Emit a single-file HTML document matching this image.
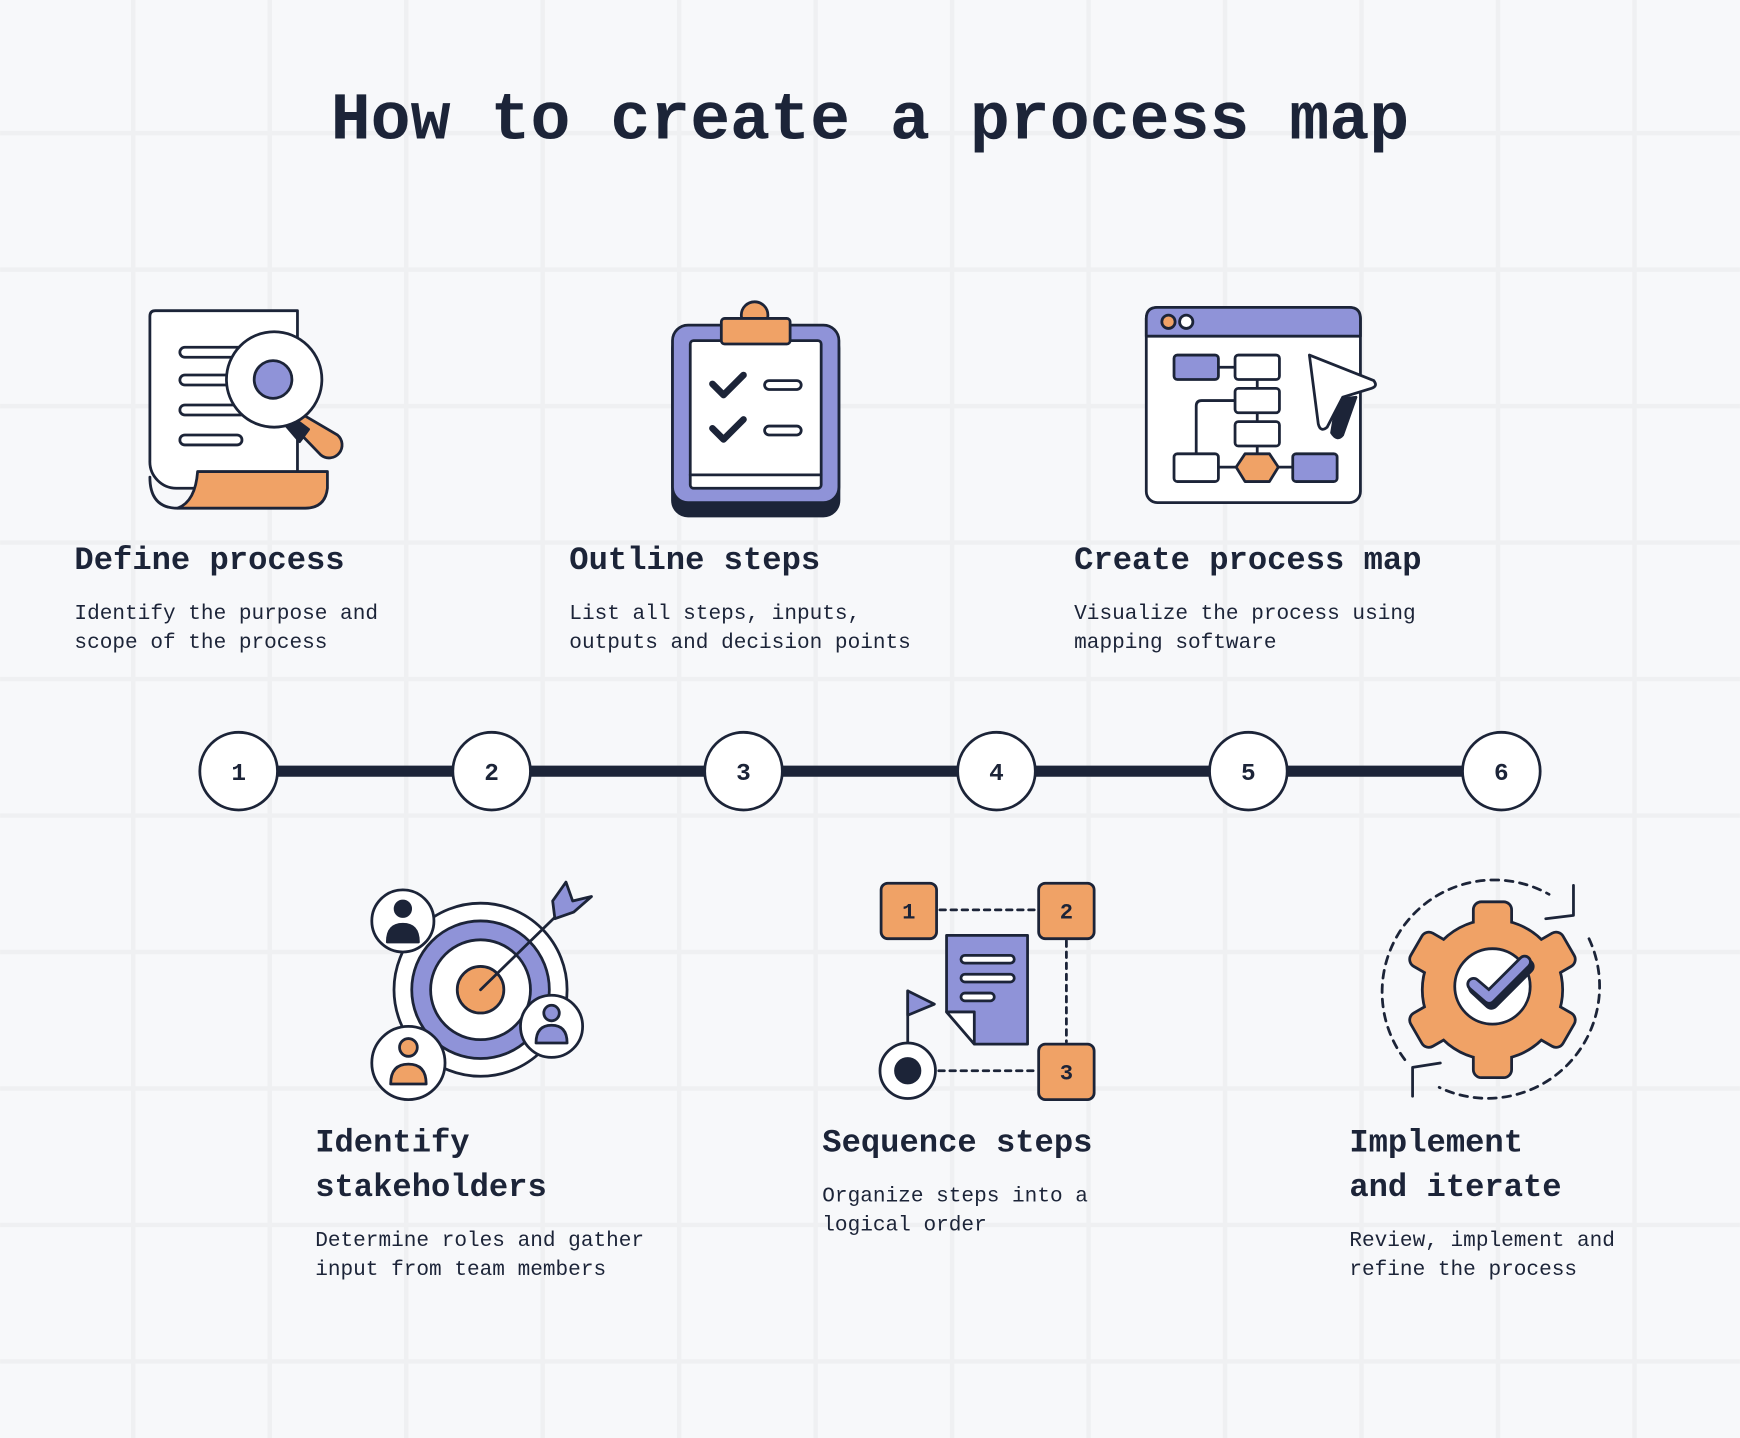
<!DOCTYPE html>
<html><head><meta charset="utf-8"><style>
html,body{margin:0;padding:0;background:#f7f8fa;}
svg{display:block;}
text{font-family:"Liberation Mono","DejaVu Sans Mono",monospace;fill:#1c2438;}
.h{font-size:29px;font-weight:bold;}
.d{font-size:19px;}
.n{font-size:22px;font-weight:bold;}
.s{font-size:20px;font-weight:bold;}
</style></head><body>
<svg width="1740" height="1438" viewBox="0 0 1568 1296" xmlns="http://www.w3.org/2000/svg">
<rect width="1568" height="1296" fill="#f7f8fa"/>
<g stroke="#eff0f2" stroke-width="4">
<line x1="120" y1="0" x2="120" y2="1296"/><line x1="243" y1="0" x2="243" y2="1296"/><line x1="366" y1="0" x2="366" y2="1296"/><line x1="489" y1="0" x2="489" y2="1296"/><line x1="612" y1="0" x2="612" y2="1296"/><line x1="735" y1="0" x2="735" y2="1296"/><line x1="858" y1="0" x2="858" y2="1296"/><line x1="981" y1="0" x2="981" y2="1296"/><line x1="1104" y1="0" x2="1104" y2="1296"/><line x1="1227" y1="0" x2="1227" y2="1296"/><line x1="1350" y1="0" x2="1350" y2="1296"/><line x1="1473" y1="0" x2="1473" y2="1296"/>
<line x1="0" y1="120" x2="1568" y2="120"/><line x1="0" y1="243" x2="1568" y2="243"/><line x1="0" y1="366" x2="1568" y2="366"/><line x1="0" y1="489" x2="1568" y2="489"/><line x1="0" y1="612" x2="1568" y2="612"/><line x1="0" y1="735" x2="1568" y2="735"/><line x1="0" y1="858" x2="1568" y2="858"/><line x1="0" y1="981" x2="1568" y2="981"/><line x1="0" y1="1104" x2="1568" y2="1104"/><line x1="0" y1="1227" x2="1568" y2="1227"/>
</g>
<text x="298" y="125" style="font-size:60px;font-weight:bold" textLength="972" lengthAdjust="spacingAndGlyphs">How to create a process map</text>

<line x1="215" y1="695" x2="1353" y2="695" stroke="#1c2438" stroke-width="10"/>
<g fill="#fff" stroke="#1c2438" stroke-width="2.5">
<circle cx="215" cy="695" r="35"/><circle cx="443" cy="695" r="35"/><circle cx="670" cy="695" r="35"/><circle cx="898" cy="695" r="35"/><circle cx="1125" cy="695" r="35"/><circle cx="1353" cy="695" r="35"/>
</g>
<g text-anchor="middle">
<text class="n" x="215" y="703">1</text><text class="n" x="443" y="703">2</text><text class="n" x="670" y="703">3</text><text class="n" x="898" y="703">4</text><text class="n" x="1125" y="703">5</text><text class="n" x="1353" y="703">6</text>
</g>

<text class="h" x="67" y="513">Define process</text>
<text class="d" x="67" y="558">Identify the purpose and</text>
<text class="d" x="67" y="584">scope of the process</text>
<text class="h" x="513" y="513">Outline steps</text>
<text class="d" x="513" y="558">List all steps, inputs,</text>
<text class="d" x="513" y="584">outputs and decision points</text>
<text class="h" x="968" y="513">Create process map</text>
<text class="d" x="968" y="558">Visualize the process using</text>
<text class="d" x="968" y="584">mapping software</text>
<text class="h" x="284" y="1038">Identify</text>
<text class="h" x="284" y="1078">stakeholders</text>
<text class="d" x="284" y="1123">Determine roles and gather</text>
<text class="d" x="284" y="1149">input from team members</text>
<text class="h" x="741" y="1038">Sequence steps</text>
<text class="d" x="741" y="1083">Organize steps into a</text>
<text class="d" x="741" y="1109">logical order</text>
<text class="h" x="1216" y="1038">Implement</text>
<text class="h" x="1216" y="1078">and iterate</text>
<text class="d" x="1216" y="1123">Review, implement and</text>
<text class="d" x="1216" y="1149">refine the process</text>

<g stroke="#1c2438" stroke-width="2.5" stroke-linejoin="round" stroke-linecap="round">
<path d="M140 280 H268 V440 H160 A24 24 0 0 1 135 415 V285 Q135 280 140 280 Z" fill="#fff"/>
<path d="M178 425 H295 V440 Q293 458 275 458 H160 Q176 452 178 425 Z" fill="#f0a266"/>
<path d="M160 458 Q135 458 135 430" fill="none"/>
<g fill="#fff"><rect x="162" y="313" width="60" height="9" rx="4.5"/><rect x="162" y="338" width="60" height="9" rx="4.5"/><rect x="162" y="365" width="60" height="9" rx="4.5"/><rect x="162" y="392" width="56" height="9" rx="4.5"/></g>
<path d="M270 372 L304 392 A11 11 0 0 1 289 410 L262 382 Z" fill="#f0a266"/>
<path d="M262 375 L278 387 L270 398 L258 384 Z" fill="#1c2438"/>
<circle cx="247" cy="342" r="43" fill="#fff"/>
<circle cx="246" cy="342" r="17" fill="#8f93d8"/>

<rect x="606" y="300" width="150" height="165" rx="14" fill="#1c2438"/>
<rect x="606" y="293" width="150" height="160" rx="14" fill="#8f93d8"/>
<rect x="622" y="307" width="118" height="133" rx="3" fill="#fff"/>
<line x1="622" y1="428" x2="740" y2="428"/>
<circle cx="680" cy="284" r="12" fill="#f0a266"/>
<rect x="650" y="287" width="62" height="23" rx="3" fill="#f0a266"/>
<path d="M642 346 L652 356 L670 338" fill="none" stroke-width="6"/>
<path d="M642 386 L652 396 L670 378" fill="none" stroke-width="6"/>
<rect x="689" y="343" width="33" height="8" rx="4" fill="#fff"/>
<rect x="689" y="384" width="33" height="8" rx="4" fill="#fff"/>

<rect x="1033" y="277" width="193" height="176" rx="10" fill="#fff"/>
<path d="M1033 303 V287 Q1033 277 1043 277 H1216 Q1226 277 1226 287 V303 Z" fill="#8f93d8"/>
<circle cx="1053" cy="290" r="6" fill="#f0a266"/><circle cx="1069" cy="290" r="6" fill="#fff"/>
<path d="M1098 331 H1113 M1133 342 V350 M1133 372 V380 M1113 361 H1083 Q1078 361 1078 366 V409 M1098 421 H1119 M1147 421 H1165 M1133 402 V409" fill="none"/>
<rect x="1058" y="320" width="40" height="22" rx="3" fill="#8f93d8"/>
<rect x="1113" y="320" width="40" height="22" rx="3" fill="#fff"/>
<rect x="1113" y="350" width="40" height="22" rx="3" fill="#fff"/>
<rect x="1113" y="380" width="40" height="22" rx="3" fill="#fff"/>
<rect x="1058" y="409" width="40" height="25" rx="3" fill="#fff"/>
<polygon points="1122,409 1144,409 1152,421 1144,434 1122,434 1114,421" fill="#f0a266"/>
<rect x="1165" y="409" width="40" height="25" rx="3" fill="#8f93d8"/>
<path d="M1205 360 L1222 358 L1210 392 Q1205 398 1200 390 Z" fill="#1c2438"/>
<path d="M1180 320 L1238 343 Q1242 348 1236 350 L1210 358 L1196 385 Q1190 390 1188 382 Z" fill="#fff"/>

<circle cx="433" cy="892" r="78" fill="#fff"/>
<circle cx="433" cy="892" r="62" fill="#8f93d8"/>
<circle cx="433" cy="892" r="45" fill="#fff"/>
<circle cx="433" cy="892" r="21" fill="#f0a266"/>
<line x1="433" y1="892" x2="512" y2="815"/>
<path d="M498 812 L510 795 L516 812 L533 808 L517 822 L500 828 Z" fill="#8f93d8"/>
<circle cx="363" cy="830" r="28" fill="#fff"/>
<circle cx="363" cy="819" r="7" fill="#1c2438"/><path d="M349 849 Q349 833 363 833 Q377 833 377 849 Z" fill="#1c2438"/>
<circle cx="368" cy="958" r="33" fill="#fff"/>
<circle cx="368" cy="944" r="8" fill="#f0a266"/><path d="M352 977 Q352 959 368 959 Q384 959 384 977 Z" fill="#f0a266"/>
<circle cx="497" cy="925" r="28" fill="#fff"/>
<circle cx="497" cy="913" r="7" fill="#8f93d8"/><path d="M483 940 Q483 924 497 924 Q511 924 511 940 Z" fill="#8f93d8"/>

<g fill="none" stroke-dasharray="5 5"><line x1="847" y1="820" x2="934" y2="820"/><line x1="961" y1="848" x2="961" y2="939"/><line x1="846" y1="965" x2="934" y2="965"/></g>
<path d="M853 843 H926 V941 H878 L853 912 Z" fill="#8f93d8"/>
<path d="M853 912 H878 V941 Z" fill="#fff"/>
<g fill="#fff"><rect x="866" y="861" width="48" height="7" rx="3.5"/><rect x="866" y="878" width="48" height="7" rx="3.5"/><rect x="866" y="895" width="30" height="7" rx="3.5"/></g>
<line x1="818" y1="893" x2="818" y2="940"/>
<path d="M818 893 L842 905 L818 915 Z" fill="#8f93d8"/>
<circle cx="818" cy="965" r="25" fill="#fff"/><circle cx="818" cy="965" r="11" fill="#1c2438"/>
<rect x="794" y="796" width="50" height="50" rx="6" fill="#f0a266"/>
<rect x="936" y="796" width="50" height="50" rx="6" fill="#f0a266"/>
<rect x="936" y="941" width="50" height="50" rx="6" fill="#f0a266"/>

<g fill="none" stroke-dasharray="7 6">
<path d="M1266 955 A101 101 0 0 1 1396 806"/>
<path d="M1432 846 A101 101 0 0 1 1297 980"/>
</g>
<path d="M1418 798 V825 L1393 828" fill="none"/>
<path d="M1273 988 V962 L1298 958" fill="none"/>
<g fill="#f0a266" stroke-width="5">
<circle cx="1345" cy="892" r="62"/>
<g transform="translate(1345 892)">
<rect x="-16" y="-78" width="32" height="32" rx="6"/>
<rect x="-16" y="-78" width="32" height="32" rx="6" transform="rotate(60)"/>
<rect x="-16" y="-78" width="32" height="32" rx="6" transform="rotate(120)"/>
<rect x="-16" y="-78" width="32" height="32" rx="6" transform="rotate(180)"/>
<rect x="-16" y="-78" width="32" height="32" rx="6" transform="rotate(240)"/>
<rect x="-16" y="-78" width="32" height="32" rx="6" transform="rotate(300)"/>
</g>
</g>
<g fill="#f0a266" stroke="none">
<circle cx="1345" cy="892" r="62"/>
<g transform="translate(1345 892)">
<rect x="-16" y="-78" width="32" height="32" rx="6"/>
<rect x="-16" y="-78" width="32" height="32" rx="6" transform="rotate(60)"/>
<rect x="-16" y="-78" width="32" height="32" rx="6" transform="rotate(120)"/>
<rect x="-16" y="-78" width="32" height="32" rx="6" transform="rotate(180)"/>
<rect x="-16" y="-78" width="32" height="32" rx="6" transform="rotate(240)"/>
<rect x="-16" y="-78" width="32" height="32" rx="6" transform="rotate(300)"/>
</g>
</g>
<circle cx="1345" cy="889" r="34" fill="#fff"/>
<path d="M1330 890 L1344 903 L1376 871" fill="none" stroke="#1c2438" stroke-width="14"/>
<path d="M1328 887 L1342 899 L1374 867" fill="none" stroke="#1c2438" stroke-width="13"/>
<path d="M1328 887 L1342 899 L1374 867" fill="none" stroke="#8f93d8" stroke-width="8"/>
</g>
<g text-anchor="middle">
<text class="s" x="819" y="828">1</text><text class="s" x="961" y="828">2</text><text class="s" x="961" y="973">3</text>
</g>
</svg>
</body></html>
